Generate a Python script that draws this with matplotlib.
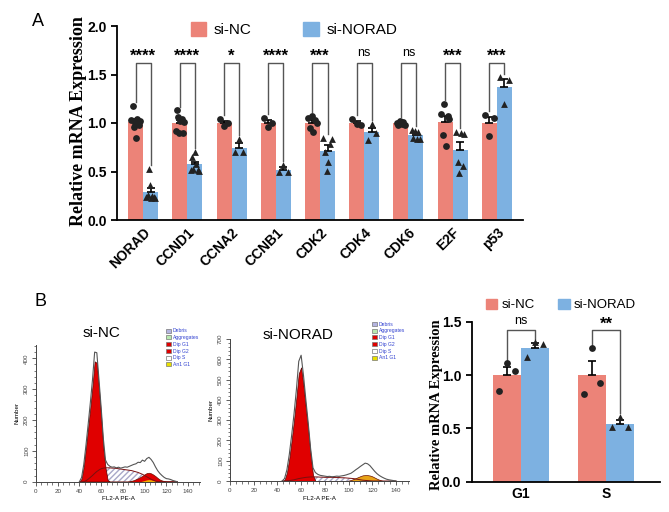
import numpy as np
import matplotlib
matplotlib.use('Agg')
import matplotlib.pyplot as plt
from matplotlib.patches import Patch
from matplotlib.ticker import MultipleLocator

plt.rcParams['font.family'] = ['Liberation Sans', 'DejaVu Sans']

# ---- data: panel A (qPCR, relative expression) ----
genes = ['NORAD', 'CCND1', 'CCNA2', 'CCNB1', 'CDK2', 'CDK4', 'CDK6', 'E2F', 'p53']
nc_a = [
    [1.03, 1.18, 0.96, 1.00, 0.85, 1.04, 0.98, 1.02],
    [0.92, 1.13, 1.06, 0.90, 1.02, 1.04, 0.90, 1.01],
    [1.04, 0.97, 1.00],
    [1.05, 0.96, 1.00],
    [1.05, 0.95, 1.07, 0.91, 1.03, 1.00],
    [1.04, 0.99, 0.98],
    [1.00, 0.98, 1.02, 0.99, 1.01, 0.98],
    [1.09, 0.88, 1.20, 0.76, 1.07, 1.04],
    [1.08, 0.87, 1.05],
]
kd_a = [
    [0.24, 0.26, 0.53, 0.36, 0.23, 0.25, 0.24, 0.23],
    [0.52, 0.65, 0.53, 0.70, 0.58, 0.52, 0.51],
    [0.70, 0.84, 0.70],
    [0.49, 0.57, 0.50],
    [0.85, 0.70, 0.51, 0.60, 0.78, 0.84],
    [0.82, 0.99, 0.90],
    [0.93, 0.85, 0.92, 0.84, 0.91, 0.83],
    [0.91, 0.60, 0.48, 0.90, 0.56, 0.89],
    [1.47, 1.20, 1.44],
]
sig_a = ['****', '****', '*', '****', '***', 'ns', 'ns', '***', '***']

# ---- data: panel B (cell-cycle phases) ----
phases = ['G1', 'S']
nc_b = [[0.85, 1.11, 1.04], [0.82, 1.25, 0.93]]
kd_b = [[1.17, 1.31, 1.29], [0.51, 0.61, 0.51]]
sig_b = ['ns', '**']

# ---- data: flow cytometry histograms ----
nc_x = list(range(40, 132, 2))
nc_total = [0, 14, 56, 118, 185, 255, 330, 420, 418, 330, 240, 140, 70, 56, 50, 47,
            48, 45, 47, 44, 46, 48, 47, 50, 53, 56, 58, 63, 62, 70, 66, 75, 79, 72,
            62, 48, 36, 27, 20, 14, 10, 9, 7, 4, 2, 0]
nc_g1 = [0, 10, 50, 110, 175, 240, 310, 390, 385, 300, 210, 110, 45, 5, 0, 0,
         0, 0, 0, 0, 0, 0, 0, 0, 0, 0, 0, 0, 0, 0, 0, 0, 0, 0,
         0, 0, 0, 0, 0, 0, 0, 0, 0, 0, 0, 0]
nc_s = [0, 0, 0, 3, 8, 14, 20, 27, 33, 38, 42, 44, 45, 45, 45, 44,
        44, 43, 42, 41, 40, 39, 38, 37, 36, 34, 32, 30, 27, 24, 20, 16, 12, 8,
        5, 2, 0, 0, 0, 0, 0, 0, 0, 0, 0, 0]
nc_g2 = [0, 0, 0, 0, 0, 0, 0, 0, 0, 0, 0, 0, 0, 0, 0, 0,
         0, 0, 0, 0, 0, 0, 0, 1, 3, 5, 8, 11, 15, 19, 24, 28, 29, 27,
         23, 18, 12, 7, 4, 2, 0, 0, 0, 0, 0, 0]
nc_an = [0, 0, 0, 0, 0, 0, 0, 0, 0, 0, 0, 0, 0, 0, 0, 0,
         0, 0, 0, 0, 0, 0, 0, 0, 0, 0, 0, 0, 0, 2, 4, 6, 7, 6,
         4, 2, 0, 0, 0, 0, 0, 0, 0, 0, 0, 0]

kd_x = list(range(44, 142, 2))
kd_total = [0, 12, 55, 130, 225, 330, 450, 590, 620, 520, 400, 285, 160, 65, 42, 33,
            28, 26, 24, 22, 23, 21, 22, 24, 23, 25, 27, 30, 34, 38, 46, 55, 63, 72,
            80, 88, 85, 76, 62, 48, 36, 27, 20, 14, 9, 6, 4, 2, 0]
kd_g1 = [0, 5, 40, 110, 200, 300, 410, 530, 560, 470, 360, 250, 130, 30, 0, 0,
         0, 0, 0, 0, 0, 0, 0, 0, 0, 0, 0, 0, 0, 0, 0, 0, 0, 0,
         0, 0, 0, 0, 0, 0, 0, 0, 0, 0, 0, 0, 0, 0, 0]
kd_s = [0, 0, 1, 2, 4, 6, 9, 12, 14, 16, 18, 19, 20, 20, 20, 20,
        19, 19, 18, 18, 18, 18, 17, 17, 17, 16, 16, 15, 14, 13, 12, 10, 8, 6,
        4, 3, 2, 1, 0, 0, 0, 0, 0, 0, 0, 0, 0, 0, 0]
kd_g2 = [0, 0, 0, 0, 0, 0, 0, 0, 0, 0, 0, 0, 0, 0, 0, 0,
         0, 0, 0, 0, 0, 0, 0, 0, 0, 0, 0, 0, 2, 5, 9, 14, 19, 24,
         28, 29, 29, 27, 23, 17, 11, 6, 2, 0, 0, 0, 0, 0, 0]

flow_labels = ['Debris', 'Aggregates', 'Dip G1', 'Dip G2', 'Dip S', 'An1 G1']
flow_colors = ['#B4B4E0', '#B8E8B0', '#E00000', '#E00000', '#FFFFFF', '#E8E000']

NC_COLOR = '#EC8378'
KD_COLOR = '#7DB1E1'
SERIF = ['Liberation Serif', 'DejaVu Serif']


def draw_groups(ax, nc, kd, sig, width, top, gap, star_y, ms):
    x = np.arange(len(nc))
    for vals, off, color, marker in ((nc, -width / 2, NC_COLOR, 'o'),
                                     (kd, width / 2, KD_COLOR, '^')):
        means = np.array([np.mean(v) for v in vals])
        sems = np.array([np.std(v, ddof=1) / np.sqrt(len(v)) for v in vals])
        ax.bar(x + off, means, width, color=color, zorder=1)
        ax.errorbar(x + off, means, yerr=[np.zeros_like(sems), sems], fmt='none',
                    ecolor='black', elinewidth=1.2, capsize=3, capthick=1.2, zorder=3)
        for i, v in enumerate(vals):
            spread = np.linspace(-width * 0.28, width * 0.28, len(v))
            ax.scatter(x[i] + off + spread, v, s=ms, c='#222222', marker=marker,
                       linewidths=0, zorder=4)
    for i, s in enumerate(sig):
        xl, xr = i - width / 2, i + width / 2
        yl, yr = max(nc[i]) + gap, max(kd[i]) + gap
        ax.plot([xl, xl, xr, xr], [yl, top, top, yr], color='#555555', lw=1, zorder=2)
        if s == 'ns':
            ax.text(i, star_y, s, ha='center', va='center', fontsize=9, clip_on=False)
        else:
            ax.text(i, star_y - 0.035, s, ha='center', va='center', fontsize=12,
                    fontweight='bold', clip_on=False)
    ax.set_xticks(x)
    for sp in ('top', 'right'):
        ax.spines[sp].set_visible(False)
    for sp in ('left', 'bottom'):
        ax.spines[sp].set_linewidth(1.3)
    ax.tick_params(axis='x', length=0, pad=4)
    ax.tick_params(axis='y', length=4, width=1.3, labelsize=10)


def draw_flow(ax, x, total, g1, s, g2, an, g2_color, ymax, title, tx, ty):
    ax.fill_between(x, s, color='white', hatch='//////', edgecolor='#A8A8C8', lw=0)
    ax.plot(x, s, color='#7A1010', lw=0.7)
    ax.fill_between(x, g1, color='#E00000', edgecolor='#5A0000', lw=0.5)
    ax.fill_between(x, g2, color=g2_color, edgecolor='#6A1000', lw=0.5)
    if an is not None:
        ax.fill_between(x, an, color='#F0B000', lw=0)
    ax.plot(x, total, color='#555555', lw=0.8)
    ax.set_xlim(0, 151)
    ax.set_ylim(0, ymax)
    ax.set_xticks(range(0, 141, 20))
    ax.xaxis.set_minor_locator(MultipleLocator(5))
    ax.yaxis.set_major_locator(MultipleLocator(100))
    ax.yaxis.set_minor_locator(MultipleLocator(20))
    for sp in ('top', 'right'):
        ax.spines[sp].set_visible(False)
    for sp in ('left', 'bottom'):
        ax.spines[sp].set_linewidth(0.7)
        ax.spines[sp].set_color('#444444')
    ax.tick_params(which='major', length=3, width=0.6, labelsize=4.5, colors='#444444', pad=2)
    ax.tick_params(which='minor', length=1.8, width=0.5, colors='#444444')
    for lab in ax.get_yticklabels():
        lab.set_rotation(90)
        lab.set_va('center')
    ax.set_xlabel('FL2-A PE-A', fontsize=4.5, labelpad=2)
    ax.set_ylabel('Number', fontsize=4.5, labelpad=3)
    ax.text(tx, ty, title, transform=ax.transAxes, ha='center', va='center', fontsize=11)
    handles = [Patch(facecolor=c, edgecolor='#777777', lw=0.5) for c in flow_colors]
    ax.legend(handles, flow_labels, loc='upper left', bbox_to_anchor=(0.78, 1.14),
              frameon=False, fontsize=3.6, labelcolor='#3040D0', handlelength=0.9,
              handleheight=0.9, handletextpad=0.4, labelspacing=0.35, borderpad=0)


fig = plt.figure(figsize=(6.69, 5.12), dpi=100)

# ---- panel A ----
axA = fig.add_axes([117 / 669, 1 - 220 / 512, 406 / 669, 194 / 512])
draw_groups(axA, nc_a, kd_a, sig_a, 0.34, 1.62, 0.04, 1.72, 24)
axA.set_xlim(-0.59, 8.59)
axA.set_ylim(0, 2.0)
axA.set_yticks([0, 0.5, 1.0, 1.5, 2.0])
axA.set_yticklabels(['0.0', '0.5', '1.0', '1.5', '2.0'], fontweight='bold')
axA.set_xticklabels(genes, rotation=45, ha='right', rotation_mode='anchor',
                    fontsize=10, fontweight='bold')
axA.set_ylabel('Relative mRNA Expression', fontsize=13, fontweight='bold', family=SERIF)
axA.yaxis.set_label_coords(-0.074, 0.51)
axA.legend([Patch(color=NC_COLOR), Patch(color=KD_COLOR)], ['si-NC', 'si-NORAD'],
           loc='center', bbox_to_anchor=(0.436, 0.98), ncol=2, frameon=False,
           fontsize=11, handlelength=1.0, handleheight=1.0, handletextpad=0.5,
           columnspacing=3.4)

# ---- panel B bar chart ----
axB = fig.add_axes([471.7 / 669, 1 - 481.7 / 512, 188.3 / 669, 160 / 512])
draw_groups(axB, nc_b, kd_b, sig_b, 0.333, 1.42, 0.03, 1.51, 24)
axB.set_xlim(-0.58, 1.635)
axB.set_ylim(0, 1.5)
axB.set_yticks([0, 0.5, 1.0, 1.5])
axB.set_yticklabels(['0.0', '0.5', '1.0', '1.5'], fontweight='bold')
axB.set_xticklabels(phases, fontsize=10, fontweight='bold')
axB.set_ylabel('Relative mRNA Expression', fontsize=10.5, fontweight='bold', family=SERIF)
axB.yaxis.set_label_coords(-0.15, 0.48)
axB.legend([Patch(color=NC_COLOR), Patch(color=KD_COLOR)], ['si-NC', 'si-NORAD'],
           loc='center', bbox_to_anchor=(0.474, 1.104), ncol=2, frameon=False,
           fontsize=9.5, handlelength=0.85, handleheight=0.85, handletextpad=0.3,
           columnspacing=1.8)

# ---- panel B flow histograms ----
axF1 = fig.add_axes([36 / 669, 1 - 481.7 / 512, 164 / 669, 136.7 / 512])
draw_flow(axF1, nc_x, nc_total, nc_g1, nc_s, nc_g2, nc_an, '#E00000', 443,
          'si-NC', 0.40, 1.09)
axF2 = fig.add_axes([230 / 669, 1 - 481 / 512, 179 / 669, 142 / 512])
draw_flow(axF2, kd_x, kd_total, kd_g1, kd_s, kd_g2, None, '#E8A317', 700,
          'si-NORAD', 0.38, 1.03)

fig.text(38 / 669, 1 - 21 / 512, 'A', fontsize=13, ha='center', va='center')
fig.text(41 / 669, 1 - 301 / 512, 'B', fontsize=13, ha='center', va='center')

fig.savefig('out.png', dpi=100)
